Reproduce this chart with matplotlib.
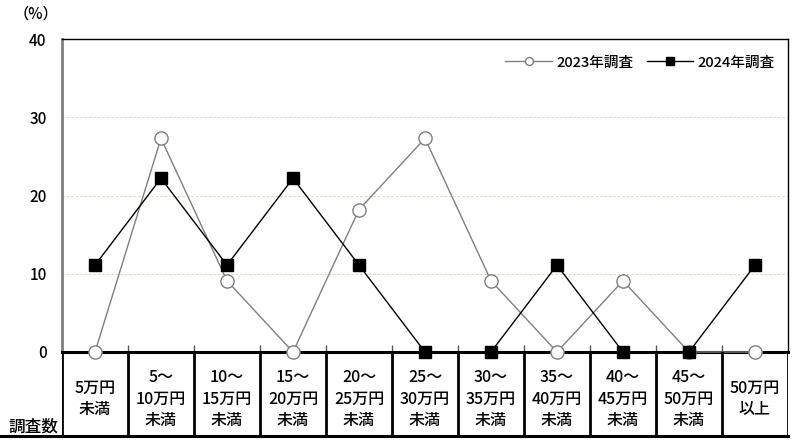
import matplotlib
matplotlib.use('Agg')
import matplotlib.pyplot as plt
from matplotlib.lines import Line2D

plt.rcParams['font.family'] = ['Noto Sans CJK JP', 'DejaVu Sans']
plt.rcParams['font.weight'] = 'medium'

# データ
categories = ['5万円\n未満', '5～\n10万円\n未満', '10～\n15万円\n未満', '15～\n20万円\n未満',
              '20～\n25万円\n未満', '25～\n30万円\n未満', '30～\n35万円\n未満', '35～\n40万円\n未満',
              '40～\n45万円\n未満', '45～\n50万円\n未満', '50万円\n以上']
survey_2023 = [0, 27.3, 9.1, 0, 18.2, 27.3, 9.1, 0, 9.1, 0, 0]
survey_2024 = [11.1, 22.2, 11.1, 22.2, 11.1, 0, 0, 11.1, 0, 0, 11.1]
yticks = [0, 10, 20, 30, 40]

W, H = 792, 441
fig = plt.figure(figsize=(W / 100, H / 100), dpi=100)

x0, x1 = 62, 788
ytop, yzero, ybot = 39, 352, 436
ax = fig.add_axes([x0 / W, 1 - yzero / H, (x1 - x0) / W, (yzero - ytop) / H])
x = list(range(len(categories)))

ax.plot(x, survey_2023, color='#7f7f7f', lw=1, marker='o', ms=9.5,
        mfc='white', mec='#7f7f7f', mew=1, label='2023年調査', clip_on=False, zorder=3)
ax.plot(x, survey_2024, color='black', lw=1, marker='s', ms=9,
        mfc='black', mec='black', label='2024年調査', clip_on=False, zorder=4)

ax.set_xlim(-0.5, len(categories) - 0.5)
ax.set_ylim(0, 40)
ax.set_yticks(yticks)
ax.set_yticklabels([str(v) for v in yticks], fontsize=11)
ax.tick_params(axis='y', length=0, pad=11)
ax.set_xticks([i + 0.5 for i in range(len(categories) - 1)])
ax.set_xticklabels([])
ax.tick_params(axis='x', direction='in', length=5, width=1, color='#555555')
ax.yaxis.grid(True, linestyle=(0, (2, 2)), color='#d8d8c0', lw=0.8)
ax.set_axisbelow(True)

ax.spines['left'].set_color('#7f7f7f')
ax.spines['left'].set_linewidth(2)
ax.spines['top'].set_linewidth(1)
ax.spines['right'].set_linewidth(1)
ax.spines['bottom'].set_linewidth(2.2)

ax.legend(loc='upper right', bbox_to_anchor=(1.0, 0.99), ncol=2, frameon=False,
          fontsize=10.5, handlelength=3.2, columnspacing=0.9, handletextpad=0.3,
          markerscale=0.6)

fig.text(36 / W, 1 - 14 / H, '（%）', fontsize=11, ha='center', va='center')

# 表部分
tab = fig.add_axes([x0 / W, 1 - ybot / H, (x1 - x0) / W, (ybot - yzero) / H])
tab.set_xlim(-0.5, len(categories) - 0.5)
tab.set_ylim(0, 1)
tab.axis('off')
for i in range(len(categories) + 1):
    tab.axvline(i - 0.5, color='black', lw=2)
for i, lab in enumerate(categories):
    tab.text(i, 0.44, lab, ha='center', va='center', fontsize=11.5, linespacing=1.35)

fig.add_artist(Line2D([0, x1 / W], [1 - ybot / H, 1 - ybot / H],
                      color='black', lw=2.2, transform=fig.transFigure))
fig.text(33 / W, 1 - 427 / H, '調査数', fontsize=12, ha='center', va='center')

fig.savefig('out.png', dpi=100)
